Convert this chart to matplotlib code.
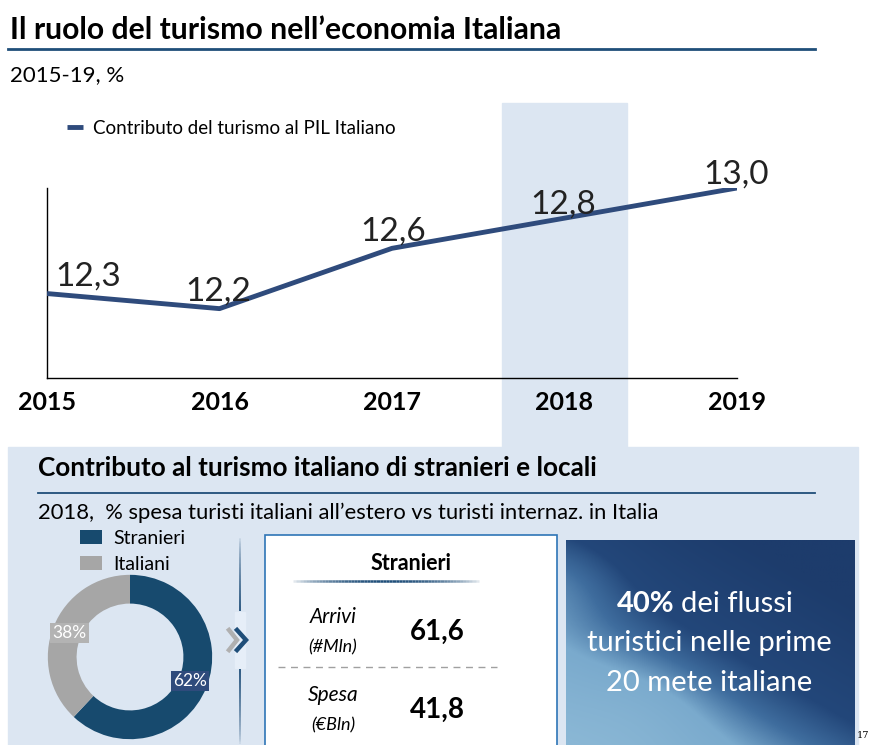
import numpy as np
import matplotlib
matplotlib.use("Agg")
import matplotlib.pyplot as plt
from matplotlib.patches import Rectangle
from matplotlib.collections import LineCollection
from matplotlib.colors import LinearSegmentedColormap, to_rgba

plt.rcParams['font.family'] = ['Lato', 'DejaVu Sans']

# dati
anni = [2015, 2016, 2017, 2018, 2019]
pil_turismo = [12.3, 12.2, 12.6, 12.8, 13.0]
serie_nome = "Contributo del turismo al PIL Italiano"

categorie = ["Stranieri", "Italiani"]
quote = [62, 38]

voci = ["Arrivi", "Spesa"]
unita = ["(#Mln)", "(€Bln)"]
valori_stranieri = [61.6, 41.8]

BLU = "#2f4b7c"
BLU_SCURO = "#1f4e79"
AZZURRO = "#dce6f2"
GRIGIO = "#a6a6a6"
TEAL = "#174a6e"

W, H = 870, 745
fig = plt.figure(figsize=(W / 100, H / 100), dpi=100)

# asse di sfondo in pixel per le forme decorative
bg = fig.add_axes([0, 0, 1, 1])
bg.set_xlim(0, W)
bg.set_ylim(H, 0)
bg.axis("off")


def px(x0, y0, x1, y1):
    # rettangolo in pixel -> coordinate figura
    return [x0 / W, 1 - y1 / H, (x1 - x0) / W, (y1 - y0) / H]


# titolo principale
bg.text(10, 30, "Il ruolo del turismo nell’economia Italiana", fontsize=21.7,
        fontweight="bold", va="center", ha="left")
bg.plot([8, 815], [49, 49], color=BLU_SCURO, lw=2)
bg.text(10, 75, "2015-19, %", fontsize=16, va="center")

# pannello inferiore
bg.add_patch(Rectangle((8, 447), 850, 300, color=AZZURRO, zorder=0))

# grafico a linee
ax = fig.add_axes(px(47, 188, 737, 378))
ax.patch.set_alpha(0)
ax.axvspan(2017.64, 2018.36, ymin=-0.363, ymax=1.447, color=AZZURRO,
           clip_on=False, zorder=0)
line, = ax.plot(anni, pil_turismo, color=BLU, lw=3.5, solid_capstyle="butt",
                label=serie_nome, zorder=3)
ax.set_xlim(2015, 2019)
ax.set_ylim(11.74, 13.0)
ax.set_yticks([])
ax.set_xticks(anni)
ax.set_xticklabels([str(a) for a in anni], fontsize=18, fontweight="bold")
ax.tick_params(axis="x", length=0, pad=9)
for s in ["top", "right"]:
    ax.spines[s].set_visible(False)
for s in ["left", "bottom"]:
    ax.spines[s].set_linewidth(1)
    ax.spines[s].set_zorder(1)

dx_lab = [30, -1, 1, -1, -1]
dy_lab = [12, 12, 12, 10, 10]
for a, v, dx, dy in zip(anni, pil_turismo, dx_lab, dy_lab):
    ax.annotate(f"{v:.1f}".replace(".", ","), (a, v), xytext=(dx, dy),
                textcoords="offset points", ha="center", va="center",
                fontsize=24, color="#222222", zorder=4, annotation_clip=False)

ax.legend(handles=[line], loc="center left", bbox_to_anchor=(58 / W, 1 - 128 / H),
          bbox_transform=fig.transFigure, frameon=False, fontsize=13.5,
          handlelength=0.85, handletextpad=0.5, borderpad=0)

# sezione inferiore
bg.text(38, 468, "Contributo al turismo italiano di stranieri e locali", fontsize=18.8,
        fontweight="bold", va="center")
bg.plot([38, 815], [493, 493], color=BLU_SCURO, lw=1.3)
bg.text(38, 513, "2018,  % spesa turisti italiani all’estero vs turisti internaz. in Italia",
        fontsize=15.8, va="center")

# ciambella
pie_ax = fig.add_axes(px(47, 574, 213, 740))
wedges, _, autotexts = pie_ax.pie(quote, colors=[TEAL, GRIGIO], startangle=90,
                                  counterclock=False, radius=1.0,
                                  wedgeprops=dict(width=0.35, edgecolor="none"),
                                  autopct=lambda p: f"{p:.0f}%", pctdistance=0.79)
box_col = ["#2f4b7c", "#b3b3b3"]
for t, c in zip(autotexts, box_col):
    t.set_color("white")
    t.set_fontsize(12.5)
    t.set_bbox(dict(facecolor=c, edgecolor="none", pad=1.5))
pie_ax.set_xlim(-1.01, 1.01)
pie_ax.set_ylim(-1.01, 1.01)
pie_ax.set_aspect("equal")
pie_ax.legend(wedges, categorie, loc="upper left", bbox_to_anchor=(80 / W, 1 - 530 / H),
              bbox_transform=fig.transFigure, frameon=False, fontsize=14,
              handlelength=1.15, handleheight=0.75, handletextpad=0.55,
              labelspacing=0.45, borderpad=0, borderaxespad=0)

# separatore verticale con freccia
def linea_sfumata(x0, y0, x1, y1, col, lw, n=60, forma="centro"):
    xs = np.linspace(x0, x1, n + 1)
    ys = np.linspace(y0, y1, n + 1)
    segs = [[(xs[i], ys[i]), (xs[i + 1], ys[i + 1])] for i in range(n)]
    t = np.linspace(0, 1, n)
    if forma == "centro":
        a = np.sin(np.pi * t) ** 0.7
    elif forma == "su":
        a = t ** 0.6
    else:
        a = (1 - t) ** 0.6
    rgba = [to_rgba(col, alpha=float(v)) for v in a]
    bg.add_collection(LineCollection(segs, colors=rgba, linewidths=lw))


linea_sfumata(240, 537, 240, 611, BLU_SCURO, 1.3, forma="su")
linea_sfumata(240, 669, 240, 745, BLU_SCURO, 1.3, forma="giu")
bg.add_patch(Rectangle((235, 612), 10, 56, color="#e6eef8", zorder=1))
bg.plot([229, 237, 229], [630, 640, 650], color="#b0b0b0", lw=3.2, zorder=2,
        solid_joinstyle="miter")
bg.plot([237, 246, 237], [630, 640, 650], color=BLU_SCURO, lw=3.2, zorder=3,
        solid_joinstyle="miter")

# riquadro bianco Stranieri
bg.add_patch(Rectangle((265, 535), 292, 215, facecolor="white",
                       edgecolor="#2e75b6", lw=1.2, zorder=2))
bg.text(411, 564, "Stranieri", fontsize=15.5, fontweight="bold", ha="center",
        va="center", zorder=3)
linea_sfumata(290, 581, 482, 581, BLU_SCURO, 1.8, forma="centro")
bg.plot([278, 497], [667, 667], color="#a0a0a0", lw=1, ls=(0, (5, 4)), zorder=3)
righe_y = [632, 710]
for v, u, val, y in zip(voci, unita, valori_stranieri, righe_y):
    bg.text(333, y - 15, v, fontsize=15, style="italic", ha="center", va="center", zorder=3)
    bg.text(333, y + 15, u, fontsize=13, style="italic", ha="center", va="center", zorder=3)
    bg.text(437, y, f"{val:.1f}".replace(".", ","), fontsize=20, fontweight="bold",
            ha="center", va="center", zorder=3)

# riquadro con gradiente (scuro in alto a destra, chiaro in basso a sinistra)
gx, gy = np.meshgrid(np.linspace(0, 1, 300), np.linspace(0, 1, 220))
scuro = (gx * 0.8 + (1 - gy) * 1.0) / 1.5
scuro = scuro - 0.12 * np.exp(-((gx - 0.0) ** 2 + (gy - 0.15) ** 2) / 0.06)
scuro = scuro - 0.08 * np.exp(-((gx - 0.25) ** 2 + (gy - 0.85) ** 2) / 0.06)
scuro = np.clip(scuro, 0, 1)
cmap = LinearSegmentedColormap.from_list("blu", [(0.0, "#8ab7d5"), (0.3, "#7aaacd"),
                                                 (0.45, "#3f6d9e"), (0.6, "#23477a"),
                                                 (1.0, "#1d3c6c")])
bg.imshow(scuro, extent=(566, 855, 745, 540), cmap=cmap, aspect="auto",
          vmin=0, vmax=1, zorder=2, origin="upper", interpolation="bilinear")
# ripristina limiti dopo imshow
bg.set_xlim(0, W)
bg.set_ylim(H, 0)
bg.text(675, 604, "40%", fontsize=21, fontweight="bold", color="white", ha="right",
        va="center", zorder=3)
bg.text(681, 604, "dei flussi", fontsize=21, color="white", ha="left", va="center", zorder=3)
bg.text(709, 643, "turistici nelle prime", fontsize=21, color="white", ha="center",
        va="center", zorder=3)
bg.text(709, 683, "20 mete italiane", fontsize=21, color="white", ha="center",
        va="center", zorder=3)

bg.text(869, 736, "17", fontsize=7, va="center", ha="right", family="DejaVu Serif")

fig.savefig("out.png", dpi=100)
